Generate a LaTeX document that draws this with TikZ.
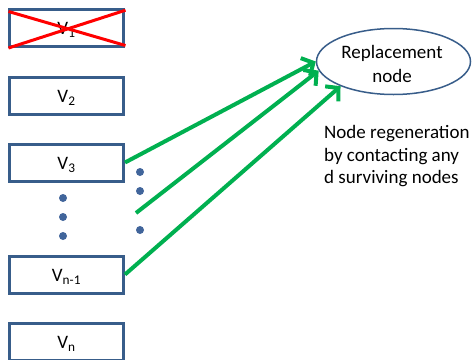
\documentclass[tikz,border=0pt]{standalone}
\usepackage{fontspec}
\setmainfont{Carlito}
\usetikzlibrary{shapes.geometric,arrows.meta,calc}
\definecolor{boxblue}{HTML}{385D8A}
\definecolor{dotblue}{HTML}{41659B}
\definecolor{arrowgreen}{HTML}{00B050}
\definecolor{crossred}{HTML}{FF0000}
\begin{document}
\begin{tikzpicture}[x=1pt,y=-1pt,
  vbox/.style={draw=boxblue, line width=3pt, minimum width=114pt,
    minimum height=37pt, inner sep=0pt, text height=14pt, text depth=0pt,
    font=\fontsize{19}{23}\selectfont},
  vdot/.style={circle, fill=dotblue, minimum size=8pt, inner sep=0pt},
  feed/.style={draw=arrowgreen, line width=4pt,
    -{Straight Barb[length=9pt,width=20pt]}},
  txt/.style={inner sep=0pt, font=\fontsize{19}{22.3}\selectfont}
  ]
\useasboundingbox (0,0) rectangle (473,359);

% storage nodes
\node[vbox] (v1)  at (66.5,27.5)  {V\textsubscript{1}};
\node[vbox] (v2)  at (66.5,95.5)  {V\textsubscript{2}};
\node[vbox] (v3)  at (66.5,162.5) {V\textsubscript{3}};
\node[vbox] (vn1) at (66.5,274.5) {V\textsubscript{n-1}};
\node[vbox] (vn)  at (66.5,341.5) {V\textsubscript{n}};

% failed node crossed out
\draw[crossred, line width=3pt]
  ($(v1.north west)+(0.5,4)$) -- ($(v1.south east)+(0.5,-2)$);
\draw[crossred, line width=3pt]
  ($(v1.south west)+(0.5,0.5)$) -- ($(v1.north east)+(0.5,2.7)$);

% ellipsis dots
\node[vdot] (d1) at (63,198) {};
\node[vdot] (d2) at (63,217) {};
\node[vdot] (d3) at (63,236) {};
\node[vdot] (e1) at (140,172) {};
\node[vdot] (e2) at (140,191) {};
\node[vdot] (e3) at (140,230) {};

% replacement node
\node[ellipse, draw=boxblue, line width=1.5pt, minimum width=154pt,
  minimum height=66pt, inner sep=0pt] (rep) at (393.5,61.5) {};
\node[txt, align=center, font=\fontsize{19}{24.4}\selectfont] (reptext)
  at (392,64) {Replacement\\node};

% repair traffic
\coordinate (mid) at (136,213);
\draw[feed] (v3.east) -- (rep.180);
\draw[feed] (mid) -- (rep.187);
\draw[feed] (vn1.east) -- (rep.205);

% caption
\node[txt, anchor=north west, align=left] (note) at (324,125.5)
  {Node regeneration\\by contacting any\\d surviving nodes};
\end{tikzpicture}
\end{document}
